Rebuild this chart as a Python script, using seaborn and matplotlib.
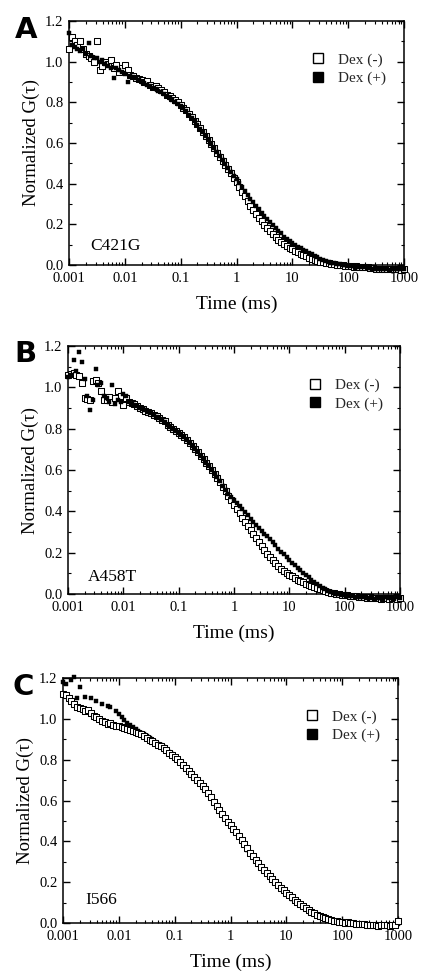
import matplotlib
matplotlib.use("Agg")
import numpy as np
import pandas as pd
import matplotlib.pyplot as plt
import seaborn as sns
from matplotlib.lines import Line2D
from matplotlib.ticker import LogLocator, NullFormatter, MultipleLocator

sns.set_theme(style="ticks")
plt.rcParams['font.family'] = ['Liberation Serif', 'DejaVu Serif']

NA = float("nan")  # channel with no visible point in the figure

# ---------------- data ----------------
TIME_MS = [
    1.00e-3, 1.12e-3, 1.26e-3, 1.41e-3, 1.58e-3, 1.78e-3, 2.00e-3, 2.24e-3, 2.51e-3, 2.82e-3,
    3.16e-3, 3.55e-3, 3.98e-3, 4.47e-3, 5.01e-3, 5.62e-3, 6.31e-3, 7.08e-3, 7.94e-3, 8.91e-3,
    1.00e-2, 1.12e-2, 1.26e-2, 1.41e-2, 1.58e-2, 1.78e-2, 2.00e-2, 2.24e-2, 2.51e-2, 2.82e-2,
    3.16e-2, 3.55e-2, 3.98e-2, 4.47e-2, 5.01e-2, 5.62e-2, 6.31e-2, 7.08e-2, 7.94e-2, 8.91e-2,
    1.00e-1, 1.12e-1, 1.26e-1, 1.41e-1, 1.58e-1, 1.78e-1, 2.00e-1, 2.24e-1, 2.51e-1, 2.82e-1,
    3.16e-1, 3.55e-1, 3.98e-1, 4.47e-1, 5.01e-1, 5.62e-1, 6.31e-1, 7.08e-1, 7.94e-1, 8.91e-1,
    1.00, 1.12, 1.26, 1.41, 1.58, 1.78, 2.00, 2.24, 2.51, 2.82,
    3.16, 3.55, 3.98, 4.47, 5.01, 5.62, 6.31, 7.08, 7.94, 8.91,
    10.0, 11.2, 12.6, 14.1, 15.8, 17.8, 20.0, 22.4, 25.1, 28.2,
    31.6, 35.5, 39.8, 44.7, 50.1, 56.2, 63.1, 70.8, 79.4, 89.1,
    100, 112, 126, 141, 158, 178, 200, 224, 251, 282,
    316, 355, 398, 447, 501, 562, 631, 708, 794, 891, 1000,
]

# Panel A (C421G)
A_DEX_MINUS = [
    1.06, 1.12, 1.10, 1.08, 1.10, 1.06, 1.04, 1.03, 1.02, 1.00, 1.10, 0.96, 0.98, 1.00, 0.99, 1.01, 0.97, 0.985, 0.95, 0.97,
    0.985, 0.96, 0.935, 0.93, 0.92, 0.915, 0.91, 0.90, 0.905, 0.885, 0.875, 0.88, 0.87, 0.86, 0.85, 0.835, 0.83, 0.82, 0.81, 0.80,
    0.785, 0.77, 0.76, 0.745, 0.73, 0.71, 0.695, 0.675, 0.655, 0.635, 0.615, 0.595, 0.575, 0.55, 0.53, 0.51, 0.49, 0.47, 0.45, 0.43,
    0.41, 0.385, 0.36, 0.34, 0.315, 0.29, 0.27, 0.25, 0.23, 0.215, 0.195, 0.18, 0.165, 0.15, 0.14, 0.125, 0.115, 0.105, 0.095, 0.085,
    0.077, 0.07, 0.062, 0.055, 0.048, 0.042, 0.036, 0.03, 0.025, 0.02, 0.016, 0.013, 0.01, 0.008, 0.006, 0.004, 0.002, 0.0, -0.002, -0.004,
    -0.005, -0.004, -0.008, -0.006, -0.01, -0.008, -0.012, -0.01, -0.015, -0.013, -0.018, -0.02, -0.018, -0.02, -0.022, -0.02, -0.018, -0.022, -0.02, -0.024, -0.02,
]
A_DEX_PLUS = [
    1.14, 1.08, 1.07, 1.06, 1.05, 1.06, 1.04, 1.09, 1.03, 1.02, 1.02, 1.00, 1.01, 0.99, 0.98, 0.97, 0.92, 0.97, 0.96, 0.95,
    0.94, 0.90, 0.93, 0.925, 0.92, 0.91, 0.90, 0.895, 0.885, 0.88, 0.87, 0.865, 0.855, 0.85, 0.84, 0.83, 0.82, 0.81, 0.80, 0.79,
    0.78, 0.77, 0.755, 0.74, 0.725, 0.71, 0.69, 0.67, 0.655, 0.635, 0.615, 0.595, 0.575, 0.555, 0.535, 0.515, 0.495, 0.475, 0.455, 0.44,
    0.425, 0.405, 0.385, 0.365, 0.345, 0.325, 0.31, 0.29, 0.275, 0.255, 0.24, 0.225, 0.21, 0.195, 0.18, 0.165, 0.155, 0.14, 0.13, 0.12,
    0.11, 0.10, 0.09, 0.082, 0.075, 0.068, 0.06, 0.052, 0.045, 0.038, 0.03, 0.025, 0.02, 0.016, 0.012, 0.009, 0.006, 0.003, 0.0, -0.002,
    -0.004, -0.006, -0.007, -0.008, -0.01, -0.011, -0.012, -0.014, -0.015, -0.018, -0.02, -0.02, -0.022, -0.02, -0.022, -0.025, -0.022, -0.02, -0.022, -0.02, -0.02,
]

# Panel B (A458T)
B_DEX_MINUS = [
    1.06, 1.065, 1.07, 1.06, 1.055, 1.02, 0.95, 0.945, 0.94, 1.03, 1.035, 1.02, 0.98, 0.94, 0.94, 0.955, 0.93, 0.95, 0.98, 0.96,
    0.915, 0.95, 0.93, 0.925, 0.92, 0.91, 0.90, 0.895, 0.885, 0.88, 0.875, 0.865, 0.86, 0.85, 0.84, 0.835, 0.82, 0.81, 0.80, 0.79,
    0.78, 0.77, 0.76, 0.745, 0.73, 0.715, 0.70, 0.685, 0.67, 0.655, 0.635, 0.62, 0.60, 0.58, 0.56, 0.54, 0.52, 0.50, 0.475, 0.455,
    0.43, 0.41, 0.39, 0.37, 0.35, 0.33, 0.31, 0.29, 0.27, 0.25, 0.23, 0.215, 0.195, 0.18, 0.165, 0.15, 0.135, 0.122, 0.11, 0.10,
    0.092, 0.085, 0.077, 0.07, 0.062, 0.056, 0.05, 0.044, 0.039, 0.034, 0.029, 0.024, 0.019, 0.015, 0.011, 0.007, 0.004, 0.001, -0.002, -0.004,
    -0.005, -0.007, -0.009, -0.01, -0.012, -0.013, -0.014, -0.016, -0.018, -0.015, -0.02, -0.018, -0.02, -0.022, -0.018, -0.02, -0.025, -0.02, -0.018, -0.022, -0.02,
]
B_DEX_PLUS = [
    1.05, 1.06, 1.13, 1.08, 1.17, 1.125, 1.04, 0.96, 0.89, 0.94, 1.09, 1.01, 1.02, 0.96, 0.95, 0.93, 1.01, 0.92, 0.94, 0.93,
    0.97, 0.96, 0.93, 0.92, 0.915, 0.91, 0.90, 0.895, 0.89, 0.88, 0.875, 0.865, 0.855, 0.85, 0.84, 0.83, 0.82, 0.81, 0.80, 0.79,
    0.78, 0.77, 0.76, 0.745, 0.73, 0.715, 0.70, 0.685, 0.67, 0.655, 0.635, 0.62, 0.60, 0.58, 0.565, 0.545, 0.525, 0.505, 0.485, 0.47,
    0.455, 0.44, 0.425, 0.41, 0.395, 0.38, 0.365, 0.35, 0.335, 0.32, 0.305, 0.29, 0.28, 0.265, 0.25, 0.235, 0.22, 0.205, 0.195, 0.18,
    0.165, 0.152, 0.14, 0.128, 0.116, 0.104, 0.092, 0.08, 0.068, 0.057, 0.047, 0.038, 0.03, 0.022, 0.015, 0.01, 0.005, 0.002, -0.001, -0.004,
    -0.006, -0.008, -0.01, -0.012, -0.013, -0.014, -0.015, -0.016, -0.018, -0.02, -0.015, -0.022, -0.018, -0.02, -0.025, -0.015, -0.02, -0.018, -0.022, -0.016, -0.02,
]

# Panel C (I566)
C_DEX_MINUS = [
    1.12, 1.115, 1.10, 1.085, 1.075, 1.06, 1.055, 1.05, 1.04, 1.045, 1.03, 1.015, 1.01, 1.0, 0.99, 0.985, 0.975, 0.98, 0.97, 0.965,
    0.965, 0.96, 0.955, 0.95, 0.945, 0.94, 0.935, 0.93, 0.925, 0.915, 0.905, 0.895, 0.89, 0.88, 0.87, 0.865, 0.855, 0.845, 0.835, 0.825,
    0.815, 0.805, 0.79, 0.775, 0.76, 0.745, 0.73, 0.715, 0.70, 0.685, 0.67, 0.655, 0.635, 0.615, 0.595, 0.575, 0.555, 0.535, 0.515, 0.495,
    0.48, 0.46, 0.445, 0.425, 0.405, 0.385, 0.365, 0.345, 0.33, 0.31, 0.295, 0.275, 0.26, 0.245, 0.23, 0.215, 0.2, 0.185, 0.17, 0.16,
    0.147, 0.135, 0.125, 0.115, 0.103, 0.093, 0.083, 0.073, 0.064, 0.056, 0.048, 0.041, 0.035, 0.029, 0.024, 0.019, 0.015, 0.012, 0.009, 0.006,
    0.004, 0.002, 0.003, 0.0, -0.001, -0.004, -0.004, -0.007, -0.006, -0.01, -0.008, -0.012, -0.01, -0.014, -0.012, -0.012, -0.01, -0.014, -0.01, -0.012, 0.01,
]
C_DEX_PLUS = [
    1.18, 1.17, NA, 1.19, 1.205, 1.10, 1.155, NA, 1.105, NA, 1.10, NA, 1.085, NA, 1.075, NA, 1.065, 1.058, NA, 1.04,
    1.025, 1.01, 0.995, 0.98, 0.97, 0.96, 0.95, 0.94, 0.93, 0.925, 0.915, 0.905, 0.895, 0.885, 0.875, 0.87, 0.86, 0.85, 0.84, 0.83,
    0.815, 0.80, 0.79, 0.775, 0.755, 0.74, 0.725, 0.71, 0.695, 0.68, 0.665, 0.65, 0.63, 0.61, 0.59, 0.57, 0.55, 0.53, 0.51, 0.49,
    0.475, 0.455, 0.44, 0.42, 0.40, 0.38, 0.36, 0.34, 0.325, 0.305, 0.29, 0.27, 0.255, 0.24, 0.225, 0.21, 0.195, 0.18, 0.165, 0.155,
    0.142, 0.13, 0.12, 0.11, 0.098, 0.088, 0.078, 0.069, 0.06, 0.052, 0.045, 0.039, 0.033, 0.027, 0.022, 0.018, 0.014, 0.011, 0.008, 0.006,
    0.004, 0.003, 0.001, 0.0, -0.002, -0.003, -0.005, -0.006, -0.008, -0.01, -0.012, -0.008, -0.01, -0.012, -0.015, -0.01, -0.012, -0.015, -0.01, -0.008, -0.005,
]

PANEL_LETTERS = ["A", "B", "C"]
SAMPLE_NAMES = ["C421G", "A458T", "I566"]
SERIES_LABELS = ["Dex (-)", "Dex (+)"]
XTICKS = [0.001, 0.01, 0.1, 1, 10, 100, 1000]
XTICK_LABELS = ["0.001", "0.01", "0.1", "1", "10", "100", "1000"]
YTICKS = [0.0, 0.2, 0.4, 0.6, 0.8, 1.0, 1.2]
YTICK_LABELS = ["0.0", "0.2", "0.4", "0.6", "0.8", "1.0", "1.2"]

MINUS_SERIES = [A_DEX_MINUS, B_DEX_MINUS, C_DEX_MINUS]
PLUS_SERIES = [A_DEX_PLUS, B_DEX_PLUS, C_DEX_PLUS]

# ---------------- layout ----------------
W, H = 422, 972
fig = plt.figure(figsize=(W / 100, H / 100), dpi=100)
fig.patch.set_facecolor("white")

# axes boxes in pixels: (left, top, right, bottom)
boxes = [(69, 21, 404, 265), (68, 346, 400, 594), (63, 678, 398, 923)]
letter_pos = [(15, 16), (14, 340), (12, 673)]
sample_pos = [(0.063, 0.045), (0.06, 0.035), (0.066, 0.06)]
plus_on_top = [True, True, False]

for i in range(3):
    l, t, r, b = boxes[i]
    ax = fig.add_axes([l / W, 1 - b / H, (r - l) / W, (b - t) / H])
    ax.set_facecolor("white")

    df_minus = pd.DataFrame({"time": TIME_MS, "G": MINUS_SERIES[i]}).dropna()
    df_plus = pd.DataFrame({"time": TIME_MS, "G": PLUS_SERIES[i]}).dropna()

    z_plus, z_minus = (4, 3) if plus_on_top[i] else (3, 4)
    sns.scatterplot(data=df_minus, x="time", y="G", ax=ax, marker="s", s=13,
                    color="white", edgecolor="black", linewidth=0.75,
                    legend=False, zorder=z_minus, clip_on=False)
    sns.scatterplot(data=df_plus, x="time", y="G", ax=ax, marker="s", s=10,
                    color="black", edgecolor="black", linewidth=0.3,
                    legend=False, zorder=z_plus, clip_on=False)

    ax.set_xscale("log")
    ax.set_xlim(0.001, 1000)
    ax.set_ylim(0.0, 1.2)
    ax.set_xticks(XTICKS)
    ax.set_xticklabels(XTICK_LABELS)
    ax.xaxis.set_minor_locator(LogLocator(base=10, subs=np.arange(2, 10), numticks=20))
    ax.xaxis.set_minor_formatter(NullFormatter())
    ax.set_yticks(YTICKS)
    ax.set_yticklabels(YTICK_LABELS)
    ax.yaxis.set_minor_locator(MultipleLocator(0.1))

    ax.tick_params(axis="both", which="both", direction="in", top=True, right=True,
                   colors="black", labelsize=10.5)
    ax.tick_params(axis="both", which="major", length=5, width=1.0)
    ax.tick_params(axis="both", which="minor", length=2.5, width=0.8)
    ax.tick_params(axis="x", which="major", pad=5)
    ax.tick_params(axis="y", which="major", pad=4)
    for sp in ax.spines.values():
        sp.set_linewidth(1.1)
        sp.set_color("black")
        sp.set_visible(True)

    ax.set_xlabel("Time (ms)", fontsize=14, labelpad=8, color="black")
    ax.set_ylabel("Normalized G(τ)", fontsize=13.5, labelpad=4, color="black")

    ax.text(sample_pos[i][0], sample_pos[i][1], SAMPLE_NAMES[i], transform=ax.transAxes,
            fontsize=12.5, ha="left", va="bottom", color="black")

    handles = [
        Line2D([], [], linestyle="none", marker="s", markersize=7,
               markerfacecolor="white", markeredgecolor="black", markeredgewidth=1.0),
        Line2D([], [], linestyle="none", marker="s", markersize=7,
               markerfacecolor="black", markeredgecolor="black"),
    ]
    ax.legend(handles, SERIES_LABELS, loc="upper left", bbox_to_anchor=(0.725, 0.87),
              frameon=False, fontsize=11, handlelength=0.8, handletextpad=0.9,
              labelspacing=0.3, borderpad=0, borderaxespad=0)

    lx, ly = letter_pos[i]
    fig.text(lx / W, 1 - ly / H, PANEL_LETTERS[i], fontsize=21, fontweight="bold",
             family=["DejaVu Sans"], ha="left", va="top", color="black")

fig.savefig("out.png", dpi=100, facecolor="white")
